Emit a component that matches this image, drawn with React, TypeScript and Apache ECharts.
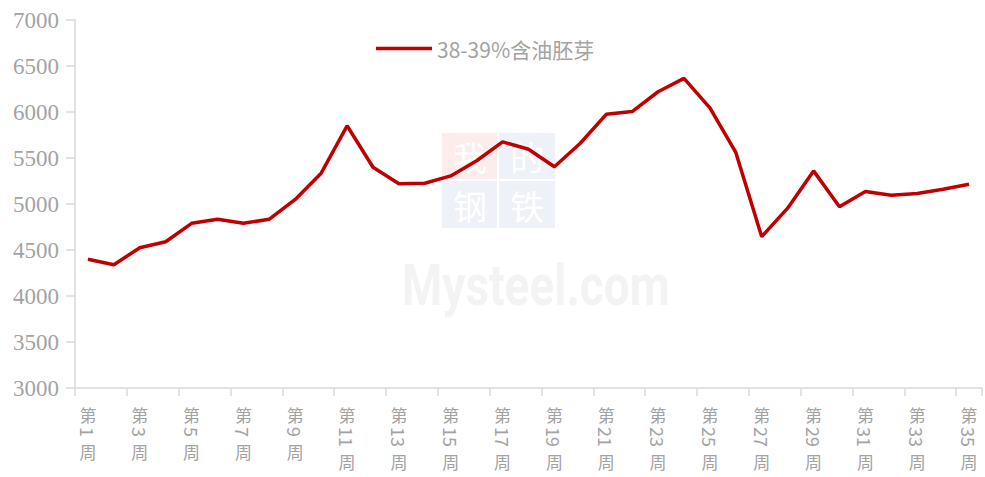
import React, { useEffect, useRef } from "react";
import * as echarts from "echarts";

const weeks = [
  "第1周", "第2周", "第3周", "第4周", "第5周", "第6周", "第7周", "第8周", "第9周", "第10周",
  "第11周", "第12周", "第13周", "第14周", "第15周", "第16周", "第17周", "第18周", "第19周", "第20周",
  "第21周", "第22周", "第23周", "第24周", "第25周", "第26周", "第27周", "第28周", "第29周", "第30周",
  "第31周", "第32周", "第33周", "第34周", "第35周",
];

const seriesName = "38-39%含油胚芽";
const values = [
  4400, 4340, 4525, 4590, 4790, 4835, 4790, 4835, 5050, 5335,
  5850, 5400, 5220, 5225, 5305, 5470, 5675, 5595, 5405, 5660,
  5975, 6005, 6220, 6365, 6045, 5560, 4645, 4955, 5360, 4970,
  5135, 5095, 5115, 5160, 5215,
];

const yMin = 3000;
const yMax = 7000;
const yStep = 500;

const labelColor = "#a3a3a3";
const cjkFont = '"Noto Sans CJK SC", "Noto Sans", sans-serif';

export default function App() {
  const ref = useRef<HTMLDivElement>(null);

  useEffect(() => {
    if (!ref.current) return;
    const chart = echarts.init(ref.current, null, { renderer: "svg" });

    const labelData = weeks
      .map((w, i) => [i, yMin, w])
      .filter((d) => (d[0] as number) % 2 === 0);

    const digitW = 10;

    const wmChar = (t: string, x: number, y: number) => ({
      type: "text",
      x,
      y,
      z: -9,
      style: { text: t, fill: "#ffffff", font: "34px " + cjkFont, align: "center", verticalAlign: "middle" },
    });

    chart.setOption({
      animation: false,
      backgroundColor: "#ffffff",
      grid: { left: 75, right: 3, top: 20, bottom: 89, containLabel: false },
      legend: {
        data: [seriesName],
        left: 371,
        top: 33,
        icon: "rect",
        itemWidth: 56,
        itemHeight: 3.5,
        itemGap: 10,
        textStyle: { color: labelColor, fontSize: 21, fontFamily: cjkFont },
      },
      graphic: [
        { type: "rect", shape: { x: 442, y: 133, width: 55, height: 46 }, style: { fill: "#fcecec" }, z: -10 },
        { type: "rect", shape: { x: 499, y: 133, width: 56, height: 46 }, style: { fill: "#eef1f7" }, z: -10 },
        { type: "rect", shape: { x: 442, y: 181, width: 55, height: 47 }, style: { fill: "#eef1f7" }, z: -10 },
        { type: "rect", shape: { x: 499, y: 181, width: 56, height: 47 }, style: { fill: "#eef1f7" }, z: -10 },
        wmChar("我", 470, 156),
        wmChar("的", 527, 156),
        wmChar("钢", 470, 205),
        wmChar("铁", 527, 205),
        {
          type: "text",
          x: 402,
          y: 257,
          scaleY: 1.25,
          z: -9,
          style: { text: "Mysteel.com", fill: "#f3f3f3", font: "bold 46px Roboto, sans-serif", align: "left", verticalAlign: "alphabetic" },
        },
      ],
      xAxis: {
        type: "category",
        data: weeks,
        boundaryGap: true,
        axisLine: { show: true, lineStyle: { color: "#d9d9d9", width: 1.5 } },
        axisTick: { show: true, interval: 1, length: 8, lineStyle: { color: "#d9d9d9", width: 1.5 } },
        axisLabel: { show: false },
        splitLine: { show: false },
      },
      yAxis: {
        type: "value",
        min: yMin,
        max: yMax,
        interval: yStep,
        axisLine: { show: true, lineStyle: { color: "#d9d9d9", width: 1.5 } },
        axisTick: { show: true, length: 9, lineStyle: { color: "#d9d9d9", width: 1.5 } },
        axisLabel: {
          color: labelColor,
          fontSize: 23,
          fontFamily: '"Liberation Serif", "Times New Roman", serif',
          margin: 16,
          formatter: (v: number) => String(v),
        },
        splitLine: { show: false },
      },
      series: [
        {
          name: seriesName,
          type: "line",
          data: values,
          symbol: "none",
          lineStyle: { color: "#c00000", width: 3.5 },
          itemStyle: { color: "#c00000" },
          z: 5,
        },
        {
          type: "custom",
          silent: true,
          clip: false,
          data: labelData,
          z: 6,
          renderItem: (params: any, api: any) => {
            const idx = api.value(0);
            const pt = api.coord([idx, yMin]);
            const text = weeks[idx] as string;
            const num = text.slice(1, text.length - 1);
            const x = pt[0];
            const y0 = pt[1];
            const numStart = y0 + 39;
            const zhouY = y0 + 53 + num.length * digitW;
            return {
              type: "group",
              children: [
                {
                  type: "text",
                  x,
                  y: y0 + 26,
                  style: { text: "第", fill: labelColor, font: "17px " + cjkFont, align: "center", verticalAlign: "middle" },
                },
                {
                  type: "text",
                  x,
                  y: numStart,
                  rotation: -Math.PI / 2,
                  style: { text: num, fill: labelColor, font: "18px " + cjkFont, align: "left", verticalAlign: "middle" },
                },
                {
                  type: "text",
                  x,
                  y: zhouY,
                  style: { text: "周", fill: labelColor, font: "17px " + cjkFont, align: "center", verticalAlign: "middle" },
                },
              ],
            };
          },
        },
      ],
    });

    return () => chart.dispose();
  }, []);

  return <div ref={ref} style={{ width: 985, height: 477, position: "absolute", left: 0, top: 0 }} />;
}
